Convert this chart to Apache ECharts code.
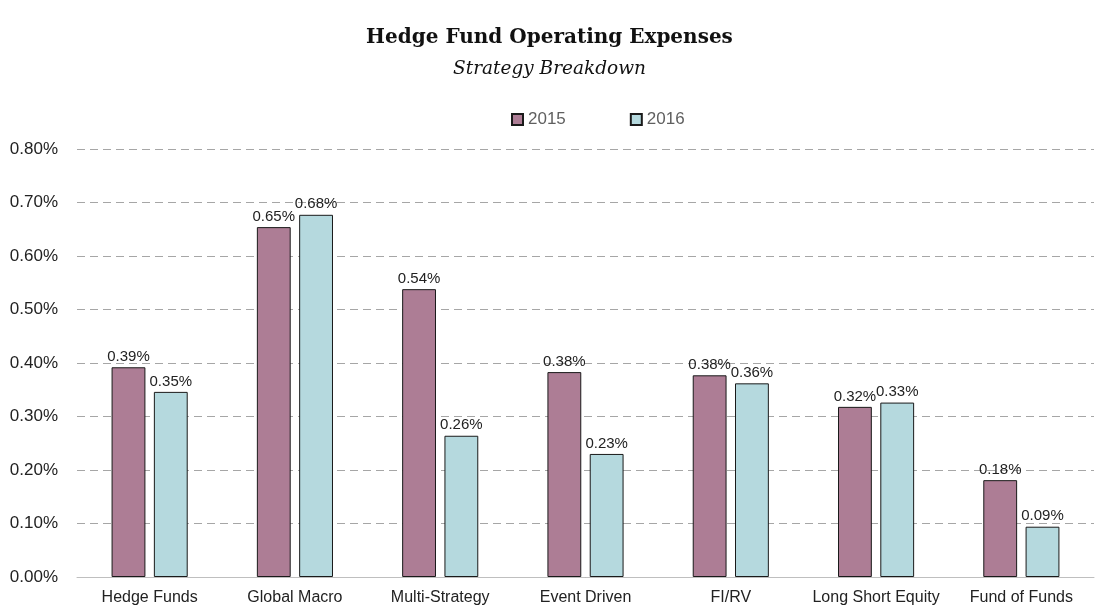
<!DOCTYPE html>
<html>
<head>
<meta charset="utf-8">
<script src="https://cdn.jsdelivr.net/npm/echarts@6/dist/echarts.min.js"></script>
<style>
  html, body { margin: 0; padding: 0; background: #fff; }
  #chart { width: 1099px; height: 614px; }
</style>
</head>
<body>
<div id="chart"></div>
<script>
// data (percent)
var categories = ["Hedge Funds", "Global Macro", "Multi-Strategy", "Event Driven", "FI/RV", "Long Short Equity", "Fund of Funds"];
var values2015 = [0.392, 0.654, 0.538, 0.383, 0.377, 0.318, 0.181];
var values2016 = [0.346, 0.677, 0.264, 0.230, 0.362, 0.326, 0.094];
var seriesNames = ["2015", "2016"];

var sans = '"Liberation Sans Narrow", "Arial Narrow", "Liberation Sans", sans-serif';
var serif = '"DejaVu Serif", "Liberation Serif", serif';

var dom = document.getElementById("chart"),
    myChart = echarts.init(dom),
    option = null;

function barLabel() {
    return {
        show: true,
        position: "top",
        distance: 3,
        color: "#222",
        fontSize: 15,
        fontFamily: sans,
        formatter: function (p) { return p.value.toFixed(2) + "%"; }
    };
}

option = {
    animation: false,
    title: {
        text: "Hedge Fund Operating Expenses",
        subtext: "Strategy Breakdown",
        left: "center",
        top: 23,
        itemGap: 12,
        textStyle: { fontFamily: serif, fontWeight: "bold", fontSize: 20, color: "#111" },
        subtextStyle: { fontFamily: serif, fontStyle: "italic", fontSize: 18.5, color: "#111" }
    },
    legend: {
        data: seriesNames,
        top: 106,
        left: 506,
        itemWidth: 11,
        itemHeight: 11,
        itemGap: 64,
        icon: "rect",
        textStyle: { color: "#5f5f5f", fontSize: 17, fontFamily: sans }
    },
    color: ["#ad7d95", "#b5d9de"],
    grid: { left: 77, right: 5, top: 149, bottom: 37 },
    xAxis: {
        type: "category",
        data: categories,
        axisLine: { lineStyle: { color: "#bfbfbf", width: 1 } },
        axisTick: { show: false },
        axisLabel: { color: "#222", fontSize: 16, fontFamily: sans, margin: 13, interval: 0 }
    },
    yAxis: {
        type: "value",
        min: 0,
        max: 0.8,
        interval: 0.1,
        axisLine: { show: false },
        axisTick: { show: false },
        axisLabel: {
            color: "#222", fontSize: 17, fontFamily: sans, margin: 19,
            formatter: function (v) { return v.toFixed(2) + "%"; }
        },
        splitLine: { lineStyle: { color: "#a6a6a6", type: [8, 5], width: 1 } }
    },
    series: [
        {
            name: seriesNames[0],
            type: "bar",
            data: values2015,
            barGap: "25%",
            barCategoryGap: "47.6%",
            itemStyle: { borderColor: "#1a1a1a", borderWidth: 1 },
            label: barLabel()
        },
        {
            name: seriesNames[1],
            type: "bar",
            data: values2016,
            barGap: "25%",
            barCategoryGap: "47.6%",
            itemStyle: { borderColor: "#1a1a1a", borderWidth: 1 },
            label: barLabel()
        }
    ]
};
option && "object" == typeof option && myChart.setOption(option, !0);
</script>
</body>
</html>
